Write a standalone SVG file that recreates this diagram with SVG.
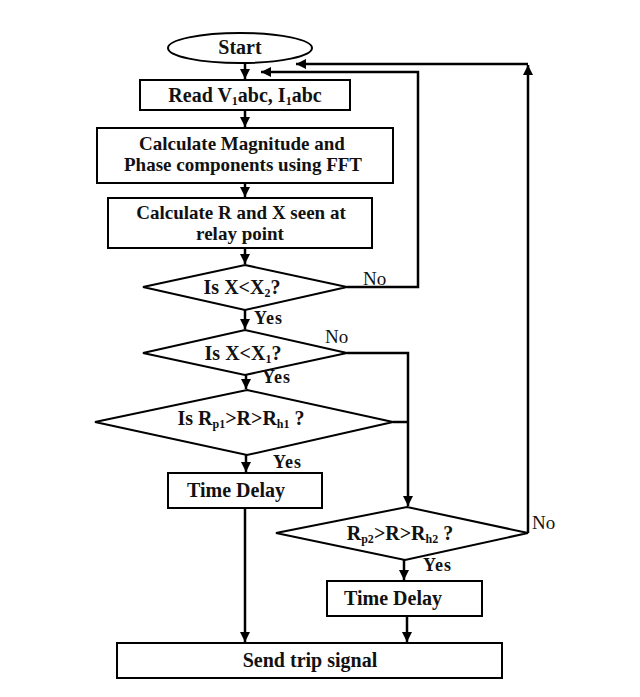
<svg xmlns="http://www.w3.org/2000/svg" width="640" height="697" viewBox="0 0 640 697">
<defs>
<marker id="ah" viewBox="0 0 10 10" refX="10" refY="5" markerWidth="10" markerHeight="10" markerUnits="userSpaceOnUse" orient="auto">
<path d="M0,0 L10,5 L0,10 Z" fill="#000"/>
</marker>
</defs>
<style>
.shape{fill:#fff;stroke:#000;stroke-width:2}
.t{font-family:"Liberation Serif","Times New Roman",serif;font-size:20px;font-weight:bold;fill:#111;text-anchor:middle}
.t2{font-size:19px}
.lbl{font-family:"Liberation Serif","Times New Roman",serif;font-size:19px;fill:#111}
.b{font-weight:bold;font-size:18px;letter-spacing:1px}
.sub{font-size:12px}
.c{fill:none;stroke:#000;stroke-width:2.5}
</style>
<rect width="640" height="697" fill="#fff"/>
<g id="connectors">
<path class="c" d="M245,63 V79" marker-end="url(#ah)"/>
<path class="c" d="M245,110 V127" marker-end="url(#ah)"/>
<path class="c" d="M245,183 V197" marker-end="url(#ah)"/>
<path class="c" d="M245,248 V264" marker-end="url(#ah)"/>
<path class="c" d="M245,310 V329" marker-end="url(#ah)"/>
<path class="c" d="M246,375 V389" marker-end="url(#ah)"/>
<path class="c" d="M246,455 V472" marker-end="url(#ah)"/>
<path class="c" d="M245,508 V642" marker-end="url(#ah)"/>
<path class="c" d="M347,287 H418 V72 H261" marker-end="url(#ah)"/>
<path class="c" d="M347,353 H408 V506" marker-end="url(#ah)"/>
<path class="c" d="M393,422 H408"/>
<path class="c" d="M528,533 V65" marker-end="url(#ah)"/>
<path class="c" d="M528,64 H296" marker-end="url(#ah)"/>
<path class="c" d="M404,560 V580" marker-end="url(#ah)"/>
<path class="c" d="M407,616 V642" marker-end="url(#ah)"/>
</g>
<g id="start">
<ellipse class="shape" cx="240" cy="48" rx="72" ry="15"/>
<text class="t" x="240" y="54">Start</text>
</g>
<g id="read">
<rect class="shape" x="140" y="80" width="210" height="30"/>
<text class="t" x="245" y="102">Read V<tspan class="sub" dy="3">1</tspan><tspan dy="-3">abc, I</tspan><tspan class="sub" dy="3">1</tspan><tspan dy="-3">abc</tspan></text>
</g>
<g id="fft">
<rect class="shape" x="97" y="128" width="296" height="55"/>
<text class="t t2" x="242" y="150">Calculate Magnitude and</text>
<text class="t t2" x="243" y="171">Phase components using FFT</text>
</g>
<g id="rx">
<rect class="shape" x="108" y="198" width="264" height="50"/>
<text class="t t2" x="241" y="219">Calculate R and X seen at</text>
<text class="t t2" x="240" y="240">relay point</text>
</g>
<g id="d1">
<polygon class="shape" points="245,265 347,287 245,310 143,287"/>
<text class="t" x="242" y="294">Is X&lt;X<tspan class="sub" dy="3">2</tspan><tspan dy="-3">?</tspan></text>
</g>
<g id="d2">
<polygon class="shape" points="245,330 347,353 245,375 143,353"/>
<text class="t" x="243" y="360">Is X&lt;X<tspan class="sub" dy="3">1</tspan><tspan dy="-3">?</tspan></text>
</g>
<g id="d3">
<polygon class="shape" points="247,390 393,422 247,455 95,422"/>
<text class="t" x="241" y="425">Is R<tspan class="sub" dy="3">p1</tspan><tspan dy="-3">&gt;R&gt;R</tspan><tspan class="sub" dy="3">h1</tspan><tspan dy="-3"> ?</tspan></text>
</g>
<g id="td1">
<rect class="shape" x="168" y="473" width="154" height="35"/>
<text class="t" x="236" y="497">Time Delay</text>
</g>
<g id="d4">
<polygon class="shape" points="407,507 528,533 405,560 276,533"/>
<text class="t" x="400" y="540">R<tspan class="sub" dy="3">p2</tspan><tspan dy="-3">&gt;R&gt;R</tspan><tspan class="sub" dy="3">h2</tspan><tspan dy="-3"> ?</tspan></text>
</g>
<g id="td2">
<rect class="shape" x="327" y="581" width="155" height="35"/>
<text class="t" x="393" y="605">Time Delay</text>
</g>
<g id="send">
<rect class="shape" x="117" y="643" width="385" height="35"/>
<text class="t" x="310" y="667">Send trip signal</text>
</g>
<g id="labels">
<text class="lbl" x="363" y="285">No</text>
<text class="lbl b" x="254" y="324">Yes</text>
<text class="lbl" x="325" y="343">No</text>
<text class="lbl b" x="262" y="383">Yes</text>
<text class="lbl b" x="273" y="468">Yes</text>
<text class="lbl" x="532" y="529">No</text>
<text class="lbl b" x="423" y="571">Yes</text>
</g>
</svg>
